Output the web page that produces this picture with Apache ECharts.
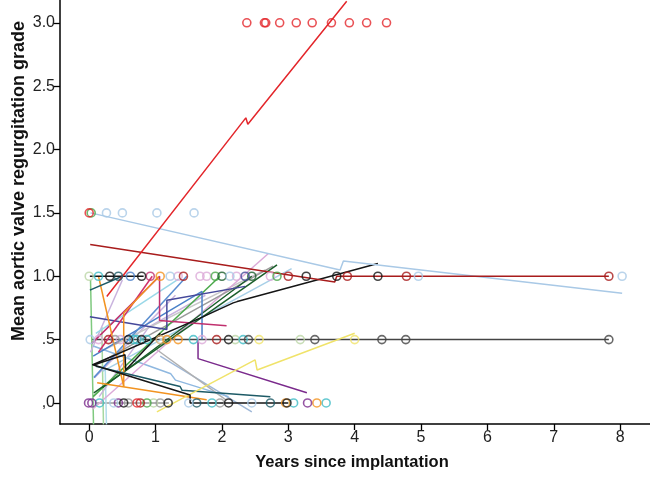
<!DOCTYPE html>
<html>
<head>
<meta charset="utf-8">
<script src="https://cdn.jsdelivr.net/npm/echarts@6/dist/echarts.min.js"></script>
<style>
html,body{margin:0;padding:0;background:#fff;}
#chart{width:650px;height:480px;}
</style>
</head>
<body>
<div id="chart"></div>
<script>
// ---- axis ticks ----
const xTicks = [0, 1, 2, 3, 4, 5, 6, 7, 8];
const yTicks = [0, 0.5, 1, 1.5, 2, 2.5, 3];
const yTickLabels = [',0', '.5', '1.0', '1.5', '2.0', '2.5', '3.0'];
const xTitle = 'Years since implantation';
const yTitle = 'Mean aortic valve regurgitation grade';

// ---- observed grades (open circles): [years, grade] ----
const ptsRed = [[0.0,1.5],[2.375,3],[2.64,3],[2.66,3],[2.87,3],[3.12,3],[3.36,3],[3.65,3],[3.92,3],[4.18,3],[4.48,3],[0.72,0]];
const ptsDarkRed = [[1.42,1],[3.0,1],[3.89,1],[4.78,1],[7.83,1],[0.29,0.5],[1.92,0.5],[0.77,0]];
const ptsLightBlue = [[0.26,1.5],[0.5,1.5],[1.02,1.5],[1.58,1.5],[1.22,1],[2.12,1],[4.96,1],[8.03,1],[0.015,0.5],[0.37,0],[1.5,0],[2.45,0]];
const ptsBlack = [[0.31,1],[0.79,1],[3.27,1],[3.73,1],[4.35,1],[0.59,0.5],[0.79,0.5],[2.1,0.5],[1.19,0],[2.1,0],[2.98,0],[0.52,0]];
const ptsDarkGray = [[2.4,0.5],[3.4,0.5],[4.41,0.5],[4.77,0.5],[7.83,0.5]];
const ptsTeal = [[0.14,1],[0.67,0.5],[0.72,0.5],[0.87,0.5],[1.57,0.5],[2.32,0.5],[0.155,0],[1.85,0],[3.08,0],[3.57,0]];
const ptsOrange = [[1.07,1],[1.17,0.5],[1.34,0.5],[2.96,0],[3.43,0]];
const ptsPurple = [[-0.01,0],[0.04,0],[0.44,0],[3.29,0]];
const ptsGreen = [[0.03,1.5],[1.9,1],[2.83,1],[0.87,0]];
const ptsDarkGreen = [[2.0,1],[2.45,1]];
const ptsYellow = [[2.56,0.5],[4.0,0.5]];
const ptsLightGreen = [[0.0,1],[2.2,0.5],[3.18,0.5],[0.97,0]];
const ptsPink = [[1.34,1],[1.67,1],[1.77,1],[2.22,1],[2.73,1],[0.14,0.5],[1.7,0.5],[0.47,0.5]];
const ptsDarkTeal = [[0.44,1],[1.62,0],[2.73,0]];
const ptsMagenta = [[0.92,1]];
const ptsGray = [[0.39,0.5],[0.59,0],[1.07,0],[1.97,0]];
const ptsNavy = [[2.35,1]];
const ptsBlue = [[0.62,1]];
const ptsTan = [[1.07,0.5]];

// ---- individual fitted trajectories: [years, grade] ----
const lineRed = [[0.265,0.84],[2.36,2.25],[2.39,2.2],[3.88,3.17]];
const lineDarkRed = [[0.015,1.25],[3.7,0.955],[3.73,1.0],[7.83,1.0]];
const lineLightBlue = [[0.02,1.5],[3.78,1.05],[3.83,1.12],[8.03,0.865]];
const lineBlackUp = [[0.045,0.3],[1.67,0.67],[2.17,0.79],[2.23,0.8],[4.35,1.1]];
const lineGrayHalf = [[0.03,0.5],[7.83,0.5]];
const lineYellow = [[1.02,-0.07],[2.5,0.34],[2.53,0.26],[4.0,0.55]];
const linePurple = [[1.64,0.5],[1.64,0.35],[3.28,0.08]];
const lineDarkTeal = [[0.1,0.29],[1.37,0.13],[1.4,0.1],[2.73,0.05]];
const lineBlackDown = [[0.065,0.3],[1.52,0.063],[1.52,0.0],[3.0,0.0]];
const lineBlackOne = [[0.01,1.0],[0.82,1.0]];
const lineBlackZ = [[0.06,0.3],[0.54,0.38],[0.55,0.26],[1.07,0.55]];
const lineGrayZero = [[0.1,0.0],[1.2,0.0]];
const lineDarkGreenA = [[0.07,0.08],[2.83,1.09]];
const lineDarkGreenB = [[0.2,0.12],[2.45,1.0]];
const lineGreen = [[0.06,0.05],[1.97,1.0]];
const lineGrayUp = [[0.1,0.3],[2.77,1.08]];
const lineLightGrayUp = [[0.15,0.4],[2.65,1.05]];
const lineLightBlueUp = [[0.2,0.25],[3.05,1.06]];
const linePink = [[0.05,-0.05],[2.7,1.18]];
const lineMagenta = [[0.04,0.47],[1.06,1.0],[1.06,0.65],[2.07,0.61]];
const lineNavy = [[0.01,0.68],[1.17,0.58],[1.17,0.81],[2.35,0.92]];
const lineBlue = [[0.06,0.37],[1.7,0.88],[1.7,0.5]];
const lineBlue2 = [[0.07,0.2],[1.47,1.0]];
const lineOrangeSteep = [[0.14,1.0],[0.52,0.13]];
const lineOrangeUp = [[0.52,0.13],[0.52,0.71],[1.05,1.0]];
const lineOrangeLow = [[0.12,0.16],[1.77,0.025]];
const lineGreenV1 = [[0.02,0.97],[0.065,-0.17]];
const lineGreenV2 = [[0.19,0.6],[0.215,-0.17]];
const lineLightBlueV = [[0.24,0.3],[0.26,-0.17]];
const lineDarkTeal2 = [[0.01,0.89],[0.5,1.0]];
const lineLavender = [[0.08,0.2],[1.3,0.85]];
const lineLavender2 = [[0.15,0.05],[0.9,0.6],[1.75,0.85]];
const lineLavender3 = [[0.02,0.4],[0.5,0.97]];
const lineCrimson = [[0.14,0.4],[0.95,1.0]];
const lineCyan = [[0.1,0.55],[1.35,0.98]];
const lineSteel = [[1.07,0.37],[2.45,-0.07]];
const lineGrayDown = [[1.02,0.42],[2.07,0.02]];
const lineLightBlueDown = [[0.06,0.45],[1.23,0.23],[1.3,0.18],[2.1,0.05]];

// ---- styling (colours) ----
const C = {
  red:'#e3262b', darkred:'#a81c1c', lightblue:'#a9c9e6', black:'#151515', darkgray:'#444444',
  teal:'#3fbcc6', orange:'#f29320', purple:'#7a2a8c', green:'#4aa84a', darkgreen:'#1a5e2a',
  yellow:'#f0e36a', lightgreen:'#bcd6a6', pink:'#dcaad8', darkteal:'#1d5a66', magenta:'#c0306e',
  gray:'#9a9a9a', navy:'#45489a', blue:'#4a80c8', tan:'#d8b070', lavender:'#c9b3de', cyan:'#9ad8e8',
  steel:'#9fb8d8', lightgray:'#c8c8c8'
};

const trajectories = [
  [lineGrayHalf, C.darkgray], [lineGrayZero, C.gray],
  [lineGreenV1, '#7fc97f'], [lineGreenV2, '#a6d8a0'], [lineLightBlueV, '#b0dcea'],
  [lineLavender, C.lavender], [lineLavender2, C.lavender], [lineLavender3, C.lavender],
  [lineCyan, C.cyan], [lineLightGrayUp, C.lightgray], [lineSteel, C.steel], [lineGrayDown, '#b0b0b0'],
  [lineLightBlueDown, '#8fb8e0'], [lineLightBlueUp, '#a8d0e8'], [linePink, C.pink],
  [lineGrayUp, C.gray], [lineGreen, C.green], [lineDarkGreenA, C.darkgreen], [lineDarkGreenB, C.darkgreen],
  [lineBlue, C.blue], [lineBlue2, '#5b8ed0'], [lineNavy, C.navy], [lineMagenta, C.magenta], [lineCrimson, '#d0306a'],
  [lineOrangeSteep, C.orange], [lineOrangeUp, C.orange], [lineOrangeLow, C.orange],
  [lineDarkTeal, C.darkteal], [lineDarkTeal2, C.darkteal], [linePurple, C.purple], [lineYellow, C.yellow],
  [lineBlackZ, C.black], [lineBlackOne, C.black], [lineBlackDown, C.black], [lineBlackUp, C.black],
  [lineLightBlue, C.lightblue], [lineDarkRed, C.darkred], [lineRed, C.red]
];

const pointGroups = [
  [ptsLightGreen, C.lightgreen], [ptsPink, C.pink], [ptsGray, C.gray], [ptsTan, C.tan],
  [ptsTeal, C.teal], [ptsOrange, C.orange], [ptsPurple, C.purple], [ptsGreen, C.green],
  [ptsDarkGreen, C.darkgreen], [ptsYellow, C.yellow], [ptsDarkTeal, C.darkteal], [ptsMagenta, C.magenta],
  [ptsNavy, C.navy], [ptsBlue, C.blue], [ptsLightBlue, C.lightblue], [ptsBlack, C.black],
  [ptsDarkGray, C.darkgray], [ptsDarkRed, C.darkred], [ptsRed, C.red]
];

const series = [];
trajectories.forEach(([d, col]) => {
  series.push({
    type: 'line', data: d, showSymbol: false, symbol: 'none', silent: true, animation: false,
    lineStyle: { color: col, width: 1.5 }, z: 2, clip: true
  });
});
pointGroups.forEach(([d, col]) => {
  series.push({
    type: 'scatter', data: d, symbol: 'circle', symbolSize: 8, silent: true, animation: false,
    itemStyle: { color: 'rgba(255,255,255,0)', borderColor: col, borderWidth: 1.6 }, z: 3
  });
});

const font = 'Liberation Sans, Arial, Helvetica, sans-serif';
const chart = echarts.init(document.getElementById('chart'), null, { renderer: 'canvas' });
chart.setOption({
  animation: false,
  backgroundColor: '#ffffff',
  grid: { left: 60, right: 0, top: 0, bottom: 56, containLabel: false },
  xAxis: {
    type: 'value', min: -0.44, max: 8.45,
    splitLine: { show: false },
    axisLine: { show: true, onZero: false, lineStyle: { color: '#000', width: 1.5 } },
    axisTick: { show: true, length: 6, customValues: xTicks, lineStyle: { color: '#000', width: 1.3 } },
    axisLabel: { customValues: xTicks, color: '#222', fontSize: 16, fontFamily: font, margin: 6 }
  },
  yAxis: {
    type: 'value', min: -0.166, max: 3.18,
    splitLine: { show: false },
    axisLine: { show: true, onZero: false, lineStyle: { color: '#000', width: 1.5 } },
    axisTick: { show: true, length: 6, customValues: yTicks, lineStyle: { color: '#000', width: 1.3 } },
    axisLabel: {
      customValues: yTicks, color: '#222', fontSize: 16, fontFamily: font, margin: 5,
      formatter: v => { const i = yTicks.findIndex(t => Math.abs(t - v) < 1e-6); return i >= 0 ? yTickLabels[i] : ''; }
    }
  },
  graphic: [
    { type: 'text', x: 352, y: 462, style: { text: xTitle, font: 'bold 16.5px ' + font, fill: '#111', textAlign: 'center', textVerticalAlign: 'middle' } },
    { type: 'text', x: 19, y: 181, rotation: Math.PI / 2, style: { text: yTitle, font: 'bold 18px ' + font, fill: '#111', textAlign: 'center', textVerticalAlign: 'middle' } }
  ],
  series: series
});
</script>
</body>
</html>
